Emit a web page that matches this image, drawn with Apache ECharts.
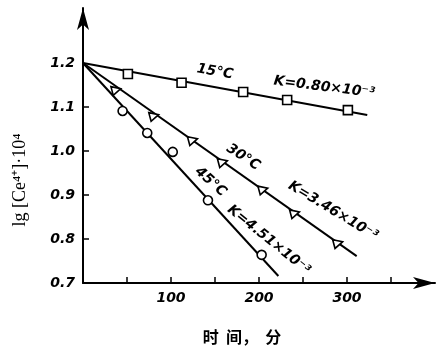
<!DOCTYPE html>
<html><head><meta charset="utf-8">
<script src="https://cdn.jsdelivr.net/npm/echarts@6/dist/echarts.min.js"></script>
<style>html,body{margin:0;padding:0;background:#fff}#c{width:438px;height:348px}</style>
</head><body><div id="c"></div>
<script>
// Data (time in min, lg[Ce4+]·10^4)
const pts15 = [[0,1.2],[51,1.175],[112,1.155],[182,1.134],[232,1.116],[301,1.093]];
const pts30 = [[0,1.2],[38,1.139],[81,1.08],[125,1.025],[159,0.975],[205,0.913],[241,0.859],[290,0.791]];
const pts45 = [[0,1.2],[45,1.091],[73,1.041],[102,0.998],[142,0.888],[203,0.764]];
// fitted straight lines (start, end)
const fit15 = [[0,1.2],[323,1.082]];
const fit30 = [[0,1.2],[311,0.761]];
const fit45 = [[0,1.2],[222,0.716]];
const xTickValues = [50,100,150,200,250,300,350];
const xLabelValues = [100,200,300];
const yTickValues = [0.8,0.9,1.0,1.1];
const yLabelValues = [0.7,0.8,0.9,1.0,1.1,1.2];
const annotations = [
  {x:150,y:1.18,text:'15°C',rot:-10},
  {x:274,y:1.145,text:'K=0.80×10⁻³',rot:-7},
  {x:182,y:0.986,text:'30°C',rot:-33},
  {x:284,y:0.864,text:'K=3.46×10⁻³',rot:-31},
  {x:145,y:0.93,text:'45°C',rot:-42},
  {x:211,y:0.798,text:'K=4.51×10⁻³',rot:-39}
];
const yName = 'lg [Ce⁴⁺]·10⁴';
const xName = '时  间，  分';

const ink = '#000';
const lblFont = {color:ink,fontFamily:'DejaVu Sans',fontWeight:'bold',fontStyle:'italic',fontSize:14};
function lineS(d){return {type:'line',data:d,symbol:'none',lineStyle:{color:ink,width:2},z:2,silent:true};}
function markS(d,sym,rot){return {type:'scatter',data:d.slice(1),symbol:sym,symbolSize:9,symbolRotate:rot||0,
  itemStyle:{color:'#fff',borderColor:ink,borderWidth:1.6,opacity:1},z:3,silent:true};}

const chart = echarts.init(document.getElementById('c'),null,{renderer:'canvas'});
chart.setOption({
  animation:false,
  grid:{left:83,right:3,top:8,bottom:65},
  xAxis:{type:'value',min:0,max:400,interval:50,
    axisLine:{show:true,symbol:['none','arrow'],symbolSize:[9,22],lineStyle:{color:ink,width:2}},
    axisTick:{show:true,inside:true,length:6,customValues:xTickValues,lineStyle:{color:ink,width:1.5}},
    axisLabel:{customValues:xLabelValues,margin:8,...lblFont},
    splitLine:{show:false}},
  yAxis:{type:'value',min:0.7,max:1.325,
    axisLine:{show:true,onZero:false,symbol:['none','arrow'],symbolSize:[9,22],lineStyle:{color:ink,width:2}},
    axisTick:{show:true,inside:true,length:6,customValues:yTickValues,lineStyle:{color:ink,width:1.5}},
    axisLabel:{customValues:yLabelValues,margin:8,formatter:v=>v.toFixed(1),...lblFont},
    splitLine:{show:false}},
  series:[
    lineS(fit15),lineS(fit30),lineS(fit45),
    markS(pts15,'rect',0),markS(pts30,'triangle',-75),markS(pts45,'circle',0),
    {type:'scatter',symbol:'circle',symbolSize:1,itemStyle:{color:'rgba(0,0,0,0)'},silent:true,z:4,
     data:annotations.map(a=>({value:[a.x,a.y],label:{show:true,position:'inside',formatter:a.text,rotate:a.rot,...lblFont,fontSize:14,opacity:1}}))}
  ],
  graphic:[
    {type:'text',x:20,y:180,rotation:Math.PI/2,style:{text:yName,fill:ink,font:'18px "Liberation Serif"',align:'center',verticalAlign:'middle'}},
    {type:'text',x:242,y:337,style:{text:xName,fill:ink,font:'bold 16px "Noto Sans CJK SC"',align:'center',verticalAlign:'middle'}}
  ]
});
</script></body></html>
